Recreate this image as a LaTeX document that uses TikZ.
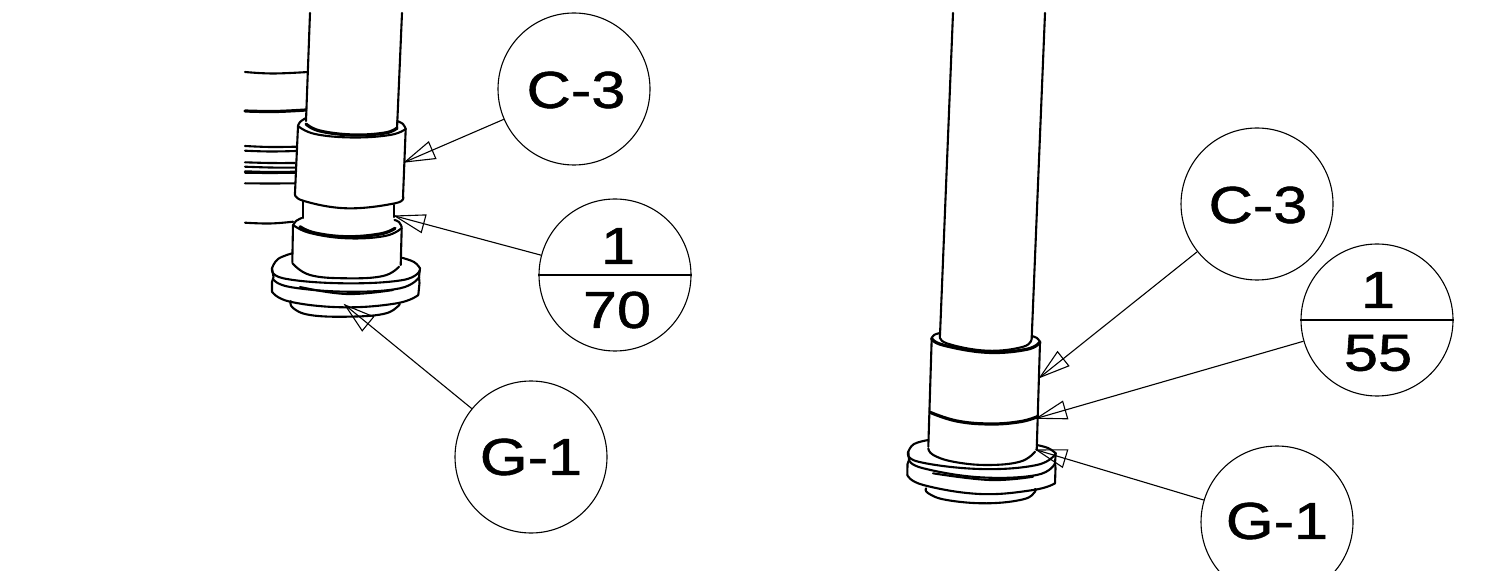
\documentclass[tikz,border=0pt]{standalone}
\usepackage{fontspec}
\setmainfont{Liberation Sans}
\newfontfamily\balloonfont[FakeBold=0.9]{Liberation Sans}
\usetikzlibrary{calc}
\tikzset{
  part/.style={line width=1.05pt,line join=round,line cap=round,black},
  heavy/.style={part,line width=1.6pt},
  thinleader/.style={line width=0.55pt,black,line join=miter},
  bubble/.style={circle,draw,line width=0.55pt,minimum size=152*0.5pt,inner sep=0pt},
  label/.style={font=\balloonfont\fontsize{26}{26}\selectfont,inner sep=0pt,xscale=1.18,yscale=1.0},
}
\newcommand{\leaderto}[2]{%
  \draw[thinleader] (#1) -- (#2);
  \draw[thinleader] (#2) -- ($(#2)!15.5pt!17:(#1)$) -- ($(#2)!15.5pt!-17:(#1)$) -- cycle;}
\newcommand{\crv}[2][part]{\draw[#1] plot[smooth,tension=0.7] coordinates {#2};}
\begin{document}
\begin{tikzpicture}[x=0.5pt,y=-0.5pt]
\clip (0,0) rectangle (1503,571);
\fill[white] (0,0) rectangle (1503,571);

% ---------- left assembly
\draw[part] (310,13) -- (306,121);
\draw[part] (402,13) -- (397,129);
\crv{(245,72) (273,73.5) (308,72)}
\crv[heavy]{(245,111) (275,111.5) (306,110)}
\crv{(245,146) (270,147) (296,146.7)}
\crv{(245,150.7) (270,151.5) (296,151)}
\crv{(245,162.3) (270,163) (295,163)}
\crv{(245,166.7) (270,167.5) (295,167.7)}
\crv{(245,171.3) (270,172) (295,171.7)}
\crv{(245,172.7) (270,173) (295,172.7)}
\crv{(245,183.3) (270,183.5) (295,183.3)}
\crv{(245,222.7) (270,223.5) (293,221.7)}
\crv{(298,126) (300,122) (306,118)}
\crv{(397,121) (403,124) (405.7,129)}
\crv[heavy]{(306,124) (320,131) (353,135) (385,133) (397,128)}
\crv{(298,126) (315,134) (352,137.5) (390,135) (405.7,129)}
\draw[part] (298,126) -- (295,193);
\draw[part] (405.7,129) -- (403,197);
\crv{(295,193) (303,200.7) (346.7,208.3) (395,203.3) (403,197)}
\draw[part] (302.7,200.7) -- (302.7,218);
\draw[part] (394.3,205) -- (394.3,217);
\crv{(293.3,225) (296,221) (301.7,218)}
\crv{(394.5,220) (399,222) (401.7,227)}
\crv[heavy]{(300,226.7) (315,233) (346.7,236.7) (380,234) (395,228.3)}
\crv{(293.3,225) (310,233) (346.7,238.3) (385,236) (401.7,228)}
\draw[part] (293,225) -- (292.3,262);
\draw[part] (401.7,228) -- (400.7,265);
\crv{(292.3,263) (310,275) (346.7,278.3) (383,276) (399,266.7)}
\crv{(292.3,253.3) (278,259) (272,268.3)}
\crv{(401.7,257.7) (414,262) (420,268.3)}
\crv{(272,268.3) (283.3,278.3) (343,283.3) (403,280) (420,270)}
\crv{(273,279) (290,287) (346.7,291.7) (400,288.3) (419.3,277)}
\crv{(300,287) (346.7,294) (393,290)}
\crv{(272,291.7) (290,301.7) (343.3,307.3) (396.7,303.3) (418.3,295)}
\draw[part] (272,268.3) -- (273.5,277) -- (272,282) -- (272,291.7);
\draw[part] (420,268.3) -- (419,277) -- (419.5,283) -- (418.3,295);
\crv{(290.7,301) (293,308) (310,315) (346.7,316.7) (383.3,314) (398.3,306) (398.5,303)}

% ---------- right assembly
\draw[part] (953,13) -- (940,335);
\draw[part] (1045,13) -- (1031.7,338);
\crv{(931.7,338.3) (934,335) (940,333)}
\crv{(1031.7,336) (1037,338) (1040,342)}
\crv{(940,335) (946.7,343.3) (986.7,350.7) (1023.3,346.7) (1031.7,338.3)}
\crv[heavy]{(931.7,338.3) (943,345) (986.7,352.3) (1026.7,349.3) (1040,342)}
\draw[part] (931.7,338.3) -- (928.3,446.7);
\draw[part] (1040,342) -- (1036.7,450);
\crv[heavy]{(930,412.3) (956.7,421) (990,424) (1020,421.7) (1037.3,416.7)}
\crv{(928.3,448.3) (933.3,455) (953.3,461.7) (986.7,465) (1020,461.7) (1035,451.7)}
\crv{(928.3,440) (914,444) (908.3,451.7)}
\crv{(1036.7,445) (1048,448) (1055.7,453.3)}
\crv{(908.3,451.7) (918.3,461.7) (980,469) (1036.7,465) (1055.7,453.3)}
\crv{(909,460) (923.3,468.3) (980,477.3) (1036.7,475) (1055,463.3)}
\crv{(933,473.3) (990,480) (1033,476.7)}
\crv{(907.3,475) (923.3,485) (980,494) (1033.3,490) (1055,483.3)}
\draw[part] (908.3,451.7) -- (909,460) -- (907.5,464) -- (907.3,475);
\draw[part] (1055.7,453.3) -- (1055,463) -- (1055.5,468) -- (1055,483.3);
\crv{(926,488.3) (928.3,493.3) (946.7,500) (986.7,503.3) (1023.3,499.3) (1035,491.7) (1035,489)}

% ---------- balloons
\node[bubble] (c3a) at (574,89) {};
\node[bubble] (fa) at (615,275) {};
\node[bubble] (g1a) at (531,457) {};
\node[bubble] (c3b) at (1257,204) {};
\node[bubble] (fb) at (1377,320) {};
\node[bubble] (g1b) at (1277,522) {};
\draw[thinleader] (fa.west) -- (fa.east);
\draw[thinleader] (fb.west) -- (fb.east);
\node[label] (tc3a) at (576,90) {C-3};
\node[label] (tfa1) at (618,246) {1};
\node[label] (tfa2) at (617,310) {70};
\node[label] (tg1a) at (531,457) {G-1};
\node[label] (tc3b) at (1258,205) {C-3};
\node[label] (tfb1) at (1378,290) {1};
\node[label] (tfb2) at (1378,353) {55};
\node[label] (tg1b) at (1277,521) {G-1};

% ---------- leaders
\coordinate (ta) at (405,162);
\coordinate (tb) at (395,216);
\coordinate (tc) at (345,305);
\coordinate (td) at (1040,377.3);
\coordinate (te) at (1036.7,418.3);
\coordinate (tf) at (1036.7,450);
\leaderto{c3a}{ta}
\leaderto{fa}{tb}
\leaderto{g1a}{tc}
\leaderto{c3b}{td}
\leaderto{fb}{te}
\leaderto{g1b}{tf}
\end{tikzpicture}
\end{document}
